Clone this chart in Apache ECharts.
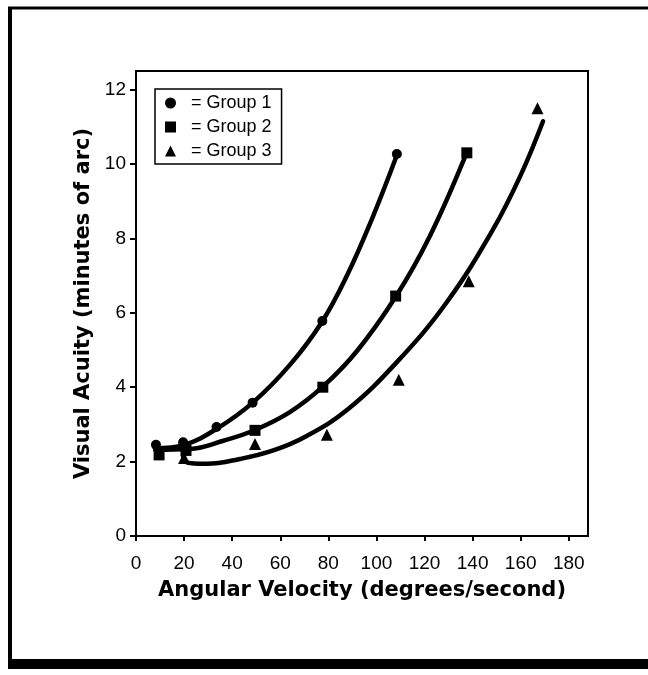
<!DOCTYPE html>
<html>
<head>
<meta charset="utf-8">
<script src="https://cdn.jsdelivr.net/npm/echarts@6.0.0/dist/echarts.min.js"></script>
<style>
html,body{margin:0;padding:0;background:#fff;}
#chart{width:648px;height:675px;}
</style>
</head>
<body>
<div id="chart"></div>
<script>
// Tick labels
const xTicks = [0, 20, 40, 60, 80, 100, 120, 140, 160, 180];
const yTicks = [0, 2, 4, 6, 8, 10, 12];

// Measured points
const group1X = [8.3, 19.6, 33.5, 48.5, 77.5, 108.5];
const group1Y = [2.45, 2.52, 2.93, 3.58, 5.78, 10.27];
const group2X = [9.6, 20.8, 49.5, 77.7, 108, 137.6];
const group2Y = [2.18, 2.3, 2.84, 4.0, 6.45, 10.3];
const group3X = [20, 49.5, 79.4, 109.3, 138.4, 167];
const group3Y = [2.1, 2.47, 2.72, 4.2, 6.85, 11.5];

// Fitted curves
const fit1X = [8, 20, 33.5, 48.8, 64, 77.2, 87.6, 98, 108.3];
const fit1Y = [2.36, 2.45, 2.88, 3.6, 4.6, 5.74, 6.98, 8.5, 10.2];
const fit2X = [8, 22.4, 36.3, 49.5, 64, 77.8, 92, 108, 122.2, 136.7];
const fit2Y = [2.32, 2.34, 2.56, 2.85, 3.33, 4.02, 4.98, 6.43, 8.06, 10.17];
const fit3X = [19.5, 20.6, 24, 29.4, 43.2, 57.1, 71, 88, 108.3, 129.1, 148.5, 160, 169.3];
const fit3Y = [2.17, 2.0, 1.95, 1.94, 2.07, 2.3, 2.69, 3.4, 4.66, 6.27, 8.24, 9.7, 11.15];

const groupNames = ['Group 1', 'Group 2', 'Group 3'];
const groupSymbols = ['circle', 'rect', 'triangle'];

function pairs(xs, ys) { return xs.map((x, i) => [x, ys[i]]); }

const chart = echarts.init(document.getElementById('chart'), null, {renderer: 'canvas'});

const pointSets = [pairs(group1X, group1Y), pairs(group2X, group2Y), pairs(group3X, group3Y)];
const fitSets = [pairs(fit1X, fit1Y), pairs(fit2X, fit2Y), pairs(fit3X, fit3Y)];
const symbolSizes = [10, 11, 12];

const series = [];
fitSets.forEach((d, i) => {
  series.push({
    name: 'fit' + (i + 1),
    type: 'line',
    data: d,
    showSymbol: false,
    smooth: 0.4,
    silent: true,
    lineStyle: {color: '#000', width: 4.5, cap: 'round', opacity: 1},
    itemStyle: {color: '#000'},
    z: 2
  });
});
pointSets.forEach((d, i) => {
  series.push({
    name: groupNames[i],
    type: 'scatter',
    data: d,
    symbol: groupSymbols[i],
    symbolSize: symbolSizes[i],
    itemStyle: {color: '#000', opacity: 1},
    z: 3
  });
});

const tickFont = {fontFamily: 'Liberation Sans, Arial, sans-serif', fontSize: 19, color: '#000'};
const titleFont = {fontFamily: 'DejaVu Sans, sans-serif', fontWeight: 'bold', fontSize: 21, color: '#000'};

chart.setOption({
  backgroundColor: '#fff',
  animation: false,
  grid: {left: 136, right: 60, top: 71, bottom: 139, show: true, borderColor: '#000', borderWidth: 2, backgroundColor: 'transparent'},
  legend: {
    orient: 'vertical',
    left: 155, top: 89,
    borderColor: '#000', borderWidth: 1.5,
    padding: [5, 10, 4, 10],
    itemGap: 6,
    itemWidth: 11, itemHeight: 11,
    itemStyle: {opacity: 1},
    data: groupNames.map((n, i) => ({name: n, icon: groupSymbols[i], itemStyle: {color: '#000', opacity: 1}})),
    formatter: n => '  = ' + n,
    textStyle: {fontFamily: 'Liberation Sans, Arial, sans-serif', fontSize: 18, color: '#000'}
  },
  xAxis: {
    type: 'value', min: 0, max: 188,
    name: 'Angular Velocity (degrees/second)',
    nameLocation: 'middle', nameGap: 44,
    nameTextStyle: titleFont,
    axisLine: {show: true, onZero: false, lineStyle: {color: '#000', width: 2}},
    axisTick: {show: true, customValues: xTicks, length: 5, lineStyle: {color: '#000', width: 2}},
    axisLabel: {customValues: xTicks, margin: 18, ...tickFont},
    splitLine: {show: false}
  },
  yAxis: {
    type: 'value', min: 0, max: 12.5,
    name: 'Visual Acuity (minutes of arc)',
    nameLocation: 'middle', nameGap: 42,
    nameTextStyle: titleFont,
    axisLine: {show: true, onZero: false, lineStyle: {color: '#000', width: 2}},
    axisTick: {show: true, customValues: yTicks, length: 6, lineStyle: {color: '#000', width: 2}},
    axisLabel: {customValues: yTicks, margin: 10, ...tickFont},
    splitLine: {show: false}
  },
  graphic: [
    {type: 'line', shape: {x1: 8, y1: 8, x2: 648, y2: 8}, style: {stroke: '#000', lineWidth: 3}, silent: true},
    {type: 'line', shape: {x1: 10, y1: 7, x2: 10, y2: 668}, style: {stroke: '#000', lineWidth: 4}, silent: true},
    {type: 'rect', shape: {x: 8, y: 659, width: 640, height: 10}, style: {fill: '#000'}, silent: true}
  ],
  series: series
});
</script>
</body>
</html>
